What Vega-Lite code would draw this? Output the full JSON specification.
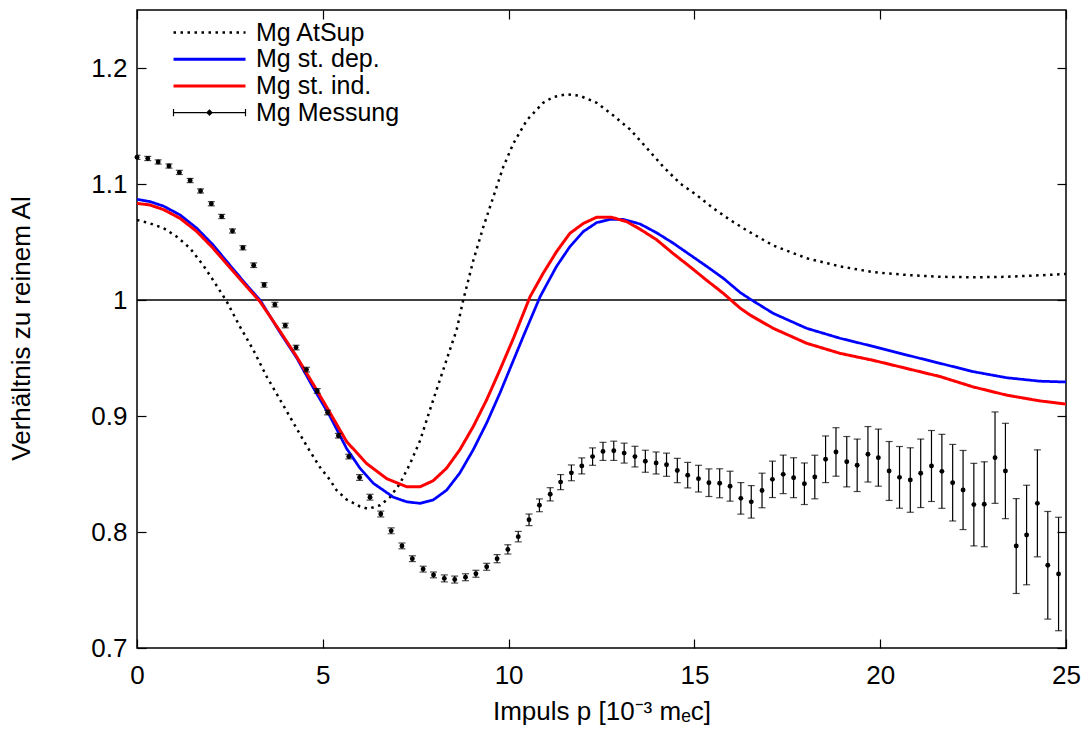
{
  "$schema": "https://vega.github.io/schema/vega-lite/v6.json",
  "width": 929,
  "height": 638,
  "autosize": {"type": "none"},
  "padding": {"left": 137, "top": 10, "right": 25, "bottom": 85},
  "background": "white",
  "config": {
    "font": "Liberation Sans",
    "view": {"stroke": "black", "strokeWidth": 1.5},
    "axis": {
      "labelFont": "Liberation Sans",
      "titleFont": "Liberation Sans",
      "labelFontSize": 26,
      "titleFontSize": 26,
      "titleFontWeight": "normal",
      "labelColor": "black",
      "titleColor": "black",
      "tickColor": "black",
      "tickWidth": 1.2,
      "tickSize": -9,
      "domain": false,
      "grid": false,
      "labelFlush": false,
      "labelOverlap": false
    }
  },
  "datasets": {
    "curves": [
      {"s": "Mg AtSup", "p": 0, "v": 1.069},
      {"s": "Mg AtSup", "p": 0.35, "v": 1.066},
      {"s": "Mg AtSup", "p": 0.71, "v": 1.062},
      {"s": "Mg AtSup", "p": 1.07, "v": 1.0546},
      {"s": "Mg AtSup", "p": 1.43, "v": 1.0446},
      {"s": "Mg AtSup", "p": 1.78, "v": 1.03},
      {"s": "Mg AtSup", "p": 2.05, "v": 1.017},
      {"s": "Mg AtSup", "p": 2.41, "v": 0.999},
      {"s": "Mg AtSup", "p": 2.77, "v": 0.977},
      {"s": "Mg AtSup", "p": 3.13, "v": 0.957},
      {"s": "Mg AtSup", "p": 3.49, "v": 0.934},
      {"s": "Mg AtSup", "p": 3.85, "v": 0.914},
      {"s": "Mg AtSup", "p": 4.21, "v": 0.894},
      {"s": "Mg AtSup", "p": 4.57, "v": 0.874},
      {"s": "Mg AtSup", "p": 4.92, "v": 0.856},
      {"s": "Mg AtSup", "p": 5.19, "v": 0.845},
      {"s": "Mg AtSup", "p": 5.37, "v": 0.836},
      {"s": "Mg AtSup", "p": 5.64, "v": 0.828},
      {"s": "Mg AtSup", "p": 6.0, "v": 0.822},
      {"s": "Mg AtSup", "p": 6.22, "v": 0.82},
      {"s": "Mg AtSup", "p": 6.54, "v": 0.823},
      {"s": "Mg AtSup", "p": 6.81, "v": 0.83},
      {"s": "Mg AtSup", "p": 7.08, "v": 0.842},
      {"s": "Mg AtSup", "p": 7.35, "v": 0.859},
      {"s": "Mg AtSup", "p": 7.62, "v": 0.879},
      {"s": "Mg AtSup", "p": 7.88, "v": 0.905},
      {"s": "Mg AtSup", "p": 8.15, "v": 0.931},
      {"s": "Mg AtSup", "p": 8.42, "v": 0.957},
      {"s": "Mg AtSup", "p": 8.6, "v": 0.974},
      {"s": "Mg AtSup", "p": 8.78, "v": 1.0},
      {"s": "Mg AtSup", "p": 9.05, "v": 1.034},
      {"s": "Mg AtSup", "p": 9.32, "v": 1.063},
      {"s": "Mg AtSup", "p": 9.59, "v": 1.089},
      {"s": "Mg AtSup", "p": 9.86, "v": 1.115},
      {"s": "Mg AtSup", "p": 10.13, "v": 1.135},
      {"s": "Mg AtSup", "p": 10.49, "v": 1.155},
      {"s": "Mg AtSup", "p": 10.93, "v": 1.17},
      {"s": "Mg AtSup", "p": 11.2, "v": 1.175},
      {"s": "Mg AtSup", "p": 11.56, "v": 1.1773},
      {"s": "Mg AtSup", "p": 11.92, "v": 1.176},
      {"s": "Mg AtSup", "p": 12.37, "v": 1.17},
      {"s": "Mg AtSup", "p": 12.82, "v": 1.159},
      {"s": "Mg AtSup", "p": 13.27, "v": 1.147},
      {"s": "Mg AtSup", "p": 13.72, "v": 1.131},
      {"s": "Mg AtSup", "p": 14.16, "v": 1.115},
      {"s": "Mg AtSup", "p": 14.61, "v": 1.1006},
      {"s": "Mg AtSup", "p": 15.06, "v": 1.0905},
      {"s": "Mg AtSup", "p": 15.51, "v": 1.079},
      {"s": "Mg AtSup", "p": 15.96, "v": 1.069},
      {"s": "Mg AtSup", "p": 16.41, "v": 1.06},
      {"s": "Mg AtSup", "p": 17.12, "v": 1.047},
      {"s": "Mg AtSup", "p": 18.02, "v": 1.036},
      {"s": "Mg AtSup", "p": 18.92, "v": 1.029},
      {"s": "Mg AtSup", "p": 19.81, "v": 1.024},
      {"s": "Mg AtSup", "p": 20.71, "v": 1.0216},
      {"s": "Mg AtSup", "p": 21.61, "v": 1.02},
      {"s": "Mg AtSup", "p": 22.51, "v": 1.0196},
      {"s": "Mg AtSup", "p": 23.4, "v": 1.02},
      {"s": "Mg AtSup", "p": 24.3, "v": 1.0213},
      {"s": "Mg AtSup", "p": 25.0, "v": 1.0224},

      {"s": "Mg st. dep.", "p": 0, "v": 1.0868},
      {"s": "Mg st. dep.", "p": 0.35, "v": 1.0848},
      {"s": "Mg st. dep.", "p": 0.71, "v": 1.081},
      {"s": "Mg st. dep.", "p": 1.16, "v": 1.0733},
      {"s": "Mg st. dep.", "p": 1.61, "v": 1.0618},
      {"s": "Mg st. dep.", "p": 2.05, "v": 1.0474},
      {"s": "Mg st. dep.", "p": 2.5, "v": 1.03},
      {"s": "Mg st. dep.", "p": 2.95, "v": 1.0129},
      {"s": "Mg st. dep.", "p": 3.31, "v": 1.0},
      {"s": "Mg st. dep.", "p": 3.85, "v": 0.972},
      {"s": "Mg st. dep.", "p": 4.3, "v": 0.95},
      {"s": "Mg st. dep.", "p": 4.75, "v": 0.924},
      {"s": "Mg st. dep.", "p": 5.19, "v": 0.9},
      {"s": "Mg st. dep.", "p": 5.64, "v": 0.872},
      {"s": "Mg st. dep.", "p": 6.0, "v": 0.855},
      {"s": "Mg st. dep.", "p": 6.36, "v": 0.842},
      {"s": "Mg st. dep.", "p": 6.9, "v": 0.83},
      {"s": "Mg st. dep.", "p": 7.26, "v": 0.826},
      {"s": "Mg st. dep.", "p": 7.62, "v": 0.8247},
      {"s": "Mg st. dep.", "p": 7.97, "v": 0.8276},
      {"s": "Mg st. dep.", "p": 8.33, "v": 0.836},
      {"s": "Mg st. dep.", "p": 8.69, "v": 0.851},
      {"s": "Mg st. dep.", "p": 9.05, "v": 0.871},
      {"s": "Mg st. dep.", "p": 9.41, "v": 0.894},
      {"s": "Mg st. dep.", "p": 9.77, "v": 0.92},
      {"s": "Mg st. dep.", "p": 10.13, "v": 0.948},
      {"s": "Mg st. dep.", "p": 10.4, "v": 0.969},
      {"s": "Mg st. dep.", "p": 10.85, "v": 1.003},
      {"s": "Mg st. dep.", "p": 11.29, "v": 1.029},
      {"s": "Mg st. dep.", "p": 11.65, "v": 1.046},
      {"s": "Mg st. dep.", "p": 12.01, "v": 1.059},
      {"s": "Mg st. dep.", "p": 12.37, "v": 1.0667},
      {"s": "Mg st. dep.", "p": 12.73, "v": 1.0695},
      {"s": "Mg st. dep.", "p": 13.09, "v": 1.0695},
      {"s": "Mg st. dep.", "p": 13.54, "v": 1.0655},
      {"s": "Mg st. dep.", "p": 13.98, "v": 1.058},
      {"s": "Mg st. dep.", "p": 14.43, "v": 1.049},
      {"s": "Mg st. dep.", "p": 14.88, "v": 1.039},
      {"s": "Mg st. dep.", "p": 15.33, "v": 1.029},
      {"s": "Mg st. dep.", "p": 15.78, "v": 1.0187},
      {"s": "Mg st. dep.", "p": 16.23, "v": 1.0065},
      {"s": "Mg st. dep.", "p": 16.5, "v": 1.0008},
      {"s": "Mg st. dep.", "p": 17.12, "v": 0.9885},
      {"s": "Mg st. dep.", "p": 18.02, "v": 0.9756},
      {"s": "Mg st. dep.", "p": 18.92, "v": 0.967},
      {"s": "Mg st. dep.", "p": 19.81, "v": 0.96},
      {"s": "Mg st. dep.", "p": 20.71, "v": 0.9526},
      {"s": "Mg st. dep.", "p": 21.61, "v": 0.9454},
      {"s": "Mg st. dep.", "p": 22.51, "v": 0.9382},
      {"s": "Mg st. dep.", "p": 23.4, "v": 0.933},
      {"s": "Mg st. dep.", "p": 24.3, "v": 0.93},
      {"s": "Mg st. dep.", "p": 25.0, "v": 0.9293},

      {"s": "Mg st. ind.", "p": 0, "v": 1.0833},
      {"s": "Mg st. ind.", "p": 0.35, "v": 1.0819},
      {"s": "Mg st. ind.", "p": 0.71, "v": 1.078},
      {"s": "Mg st. ind.", "p": 1.16, "v": 1.0704},
      {"s": "Mg st. ind.", "p": 1.61, "v": 1.059},
      {"s": "Mg st. ind.", "p": 2.05, "v": 1.0446},
      {"s": "Mg st. ind.", "p": 2.5, "v": 1.028},
      {"s": "Mg st. ind.", "p": 2.95, "v": 1.0115},
      {"s": "Mg st. ind.", "p": 3.31, "v": 0.9986},
      {"s": "Mg st. ind.", "p": 3.85, "v": 0.973},
      {"s": "Mg st. ind.", "p": 4.3, "v": 0.951},
      {"s": "Mg st. ind.", "p": 4.75, "v": 0.927},
      {"s": "Mg st. ind.", "p": 5.19, "v": 0.903},
      {"s": "Mg st. ind.", "p": 5.64, "v": 0.878},
      {"s": "Mg st. ind.", "p": 6.18, "v": 0.859},
      {"s": "Mg st. ind.", "p": 6.72, "v": 0.846},
      {"s": "Mg st. ind.", "p": 7.26, "v": 0.839},
      {"s": "Mg st. ind.", "p": 7.62, "v": 0.839},
      {"s": "Mg st. ind.", "p": 7.97, "v": 0.8442},
      {"s": "Mg st. ind.", "p": 8.33, "v": 0.855},
      {"s": "Mg st. ind.", "p": 8.69, "v": 0.871},
      {"s": "Mg st. ind.", "p": 9.05, "v": 0.891},
      {"s": "Mg st. ind.", "p": 9.41, "v": 0.914},
      {"s": "Mg st. ind.", "p": 9.77, "v": 0.94},
      {"s": "Mg st. ind.", "p": 10.13, "v": 0.967},
      {"s": "Mg st. ind.", "p": 10.58, "v": 1.003},
      {"s": "Mg st. ind.", "p": 10.93, "v": 1.023},
      {"s": "Mg st. ind.", "p": 11.29, "v": 1.0417},
      {"s": "Mg st. ind.", "p": 11.65, "v": 1.0575},
      {"s": "Mg st. ind.", "p": 12.01, "v": 1.066},
      {"s": "Mg st. ind.", "p": 12.37, "v": 1.0713},
      {"s": "Mg st. ind.", "p": 12.77, "v": 1.0713},
      {"s": "Mg st. ind.", "p": 13.18, "v": 1.0675},
      {"s": "Mg st. ind.", "p": 13.54, "v": 1.061},
      {"s": "Mg st. ind.", "p": 13.98, "v": 1.052},
      {"s": "Mg st. ind.", "p": 14.43, "v": 1.04},
      {"s": "Mg st. ind.", "p": 14.88, "v": 1.0287},
      {"s": "Mg st. ind.", "p": 15.33, "v": 1.017},
      {"s": "Mg st. ind.", "p": 15.78, "v": 1.0057},
      {"s": "Mg st. ind.", "p": 16.23, "v": 0.993},
      {"s": "Mg st. ind.", "p": 16.5, "v": 0.987},
      {"s": "Mg st. ind.", "p": 17.12, "v": 0.9756},
      {"s": "Mg st. ind.", "p": 18.02, "v": 0.9627},
      {"s": "Mg st. ind.", "p": 18.92, "v": 0.954},
      {"s": "Mg st. ind.", "p": 19.81, "v": 0.948},
      {"s": "Mg st. ind.", "p": 20.71, "v": 0.941},
      {"s": "Mg st. ind.", "p": 21.61, "v": 0.934},
      {"s": "Mg st. ind.", "p": 22.51, "v": 0.925},
      {"s": "Mg st. ind.", "p": 23.4, "v": 0.918},
      {"s": "Mg st. ind.", "p": 24.3, "v": 0.913},
      {"s": "Mg st. ind.", "p": 25.0, "v": 0.9103}
    ],
    "meas": [
      {"p": 0, "v": 1.123, "e": 0.0018},
      {"p": 0.29, "v": 1.122, "e": 0.0018},
      {"p": 0.57, "v": 1.119, "e": 0.0018},
      {"p": 0.86, "v": 1.1155, "e": 0.0018},
      {"p": 1.14, "v": 1.11, "e": 0.0018},
      {"p": 1.43, "v": 1.103, "e": 0.0018},
      {"p": 1.71, "v": 1.094, "e": 0.0018},
      {"p": 2.0, "v": 1.083, "e": 0.0018},
      {"p": 2.28, "v": 1.072, "e": 0.0018},
      {"p": 2.57, "v": 1.0595, "e": 0.0018},
      {"p": 2.85, "v": 1.045, "e": 0.0018},
      {"p": 3.14, "v": 1.03, "e": 0.002},
      {"p": 3.42, "v": 1.013, "e": 0.002},
      {"p": 3.71, "v": 0.996, "e": 0.002},
      {"p": 3.99, "v": 0.978, "e": 0.002},
      {"p": 4.28, "v": 0.959, "e": 0.002},
      {"p": 4.56, "v": 0.94, "e": 0.002},
      {"p": 4.85, "v": 0.9216, "e": 0.002},
      {"p": 5.13, "v": 0.903, "e": 0.002},
      {"p": 5.42, "v": 0.883, "e": 0.002},
      {"p": 5.7, "v": 0.865, "e": 0.002},
      {"p": 5.99, "v": 0.847, "e": 0.0025},
      {"p": 6.27, "v": 0.83, "e": 0.0025},
      {"p": 6.56, "v": 0.8155, "e": 0.0025},
      {"p": 6.84, "v": 0.801, "e": 0.0025},
      {"p": 7.13, "v": 0.788, "e": 0.0025},
      {"p": 7.41, "v": 0.777, "e": 0.0025},
      {"p": 7.7, "v": 0.768, "e": 0.0025},
      {"p": 7.98, "v": 0.763, "e": 0.0025},
      {"p": 8.27, "v": 0.76, "e": 0.003},
      {"p": 8.55, "v": 0.759, "e": 0.003},
      {"p": 8.84, "v": 0.761, "e": 0.003},
      {"p": 9.12, "v": 0.764, "e": 0.003},
      {"p": 9.41, "v": 0.77, "e": 0.003},
      {"p": 9.69, "v": 0.777, "e": 0.0035},
      {"p": 9.98, "v": 0.785, "e": 0.004},
      {"p": 10.26, "v": 0.796, "e": 0.0045},
      {"p": 10.55, "v": 0.8105, "e": 0.005},
      {"p": 10.83, "v": 0.823, "e": 0.0055},
      {"p": 11.12, "v": 0.8325, "e": 0.0057},
      {"p": 11.4, "v": 0.843, "e": 0.0065},
      {"p": 11.69, "v": 0.851, "e": 0.0068},
      {"p": 11.97, "v": 0.857, "e": 0.0069},
      {"p": 12.26, "v": 0.865, "e": 0.0075},
      {"p": 12.54, "v": 0.8695, "e": 0.0078},
      {"p": 12.83, "v": 0.87, "e": 0.0083},
      {"p": 13.11, "v": 0.868, "e": 0.0086},
      {"p": 13.4, "v": 0.865, "e": 0.0089},
      {"p": 13.68, "v": 0.861, "e": 0.0095},
      {"p": 13.97, "v": 0.8595, "e": 0.0095},
      {"p": 14.25, "v": 0.858, "e": 0.01},
      {"p": 14.54, "v": 0.853, "e": 0.0105},
      {"p": 14.82, "v": 0.849, "e": 0.011},
      {"p": 15.11, "v": 0.846, "e": 0.0115},
      {"p": 15.39, "v": 0.8425, "e": 0.0119},
      {"p": 15.68, "v": 0.842, "e": 0.0125},
      {"p": 15.96, "v": 0.8395, "e": 0.0129},
      {"p": 16.25, "v": 0.829, "e": 0.0136},
      {"p": 16.53, "v": 0.826, "e": 0.014},
      {"p": 16.82, "v": 0.8358, "e": 0.0149},
      {"p": 17.1, "v": 0.8454, "e": 0.0157},
      {"p": 17.39, "v": 0.8497, "e": 0.0166},
      {"p": 17.67, "v": 0.8468, "e": 0.0172},
      {"p": 17.96, "v": 0.8416, "e": 0.0179},
      {"p": 18.24, "v": 0.8474, "e": 0.0188},
      {"p": 18.53, "v": 0.8627, "e": 0.0201},
      {"p": 18.81, "v": 0.869, "e": 0.0209},
      {"p": 19.1, "v": 0.8606, "e": 0.0217},
      {"p": 19.38, "v": 0.8575, "e": 0.0226},
      {"p": 19.67, "v": 0.867, "e": 0.0239},
      {"p": 19.95, "v": 0.8641, "e": 0.0246},
      {"p": 20.24, "v": 0.8526, "e": 0.0254},
      {"p": 20.52, "v": 0.8471, "e": 0.0266},
      {"p": 20.81, "v": 0.8448, "e": 0.0278},
      {"p": 21.09, "v": 0.8506, "e": 0.0295},
      {"p": 21.38, "v": 0.8569, "e": 0.0306},
      {"p": 21.66, "v": 0.8523, "e": 0.0319},
      {"p": 21.95, "v": 0.8425, "e": 0.033},
      {"p": 22.23, "v": 0.8362, "e": 0.0341},
      {"p": 22.52, "v": 0.8236, "e": 0.0356},
      {"p": 22.8, "v": 0.8239, "e": 0.0366},
      {"p": 23.09, "v": 0.8641, "e": 0.0394},
      {"p": 23.37, "v": 0.8526, "e": 0.0411},
      {"p": 23.66, "v": 0.7879, "e": 0.0409},
      {"p": 23.94, "v": 0.7974, "e": 0.0429},
      {"p": 24.23, "v": 0.8247, "e": 0.0461},
      {"p": 24.51, "v": 0.7713, "e": 0.0464},
      {"p": 24.8, "v": 0.7638, "e": 0.0489}
    ],
    "ref": [{"v": 1}]
  },
  "layer": [
    {
      "data": {"name": "ref"},
      "mark": {"type": "rule", "color": "black", "strokeWidth": 1.5},
      "encoding": {
        "y": {"field": "v", "type": "quantitative", "axis": null}
      }
    },
    {
      "data": {"name": "curves"},
      "mark": {"type": "line", "clip": true},
      "encoding": {
        "x": {
          "field": "p", "type": "quantitative",
          "scale": {"domain": [0, 25], "nice": false, "zero": false},
          "axis": {"orient": "bottom", "values": [0, 5, 10, 15, 20, 25], "title": "Impuls p [10⁻³ mₑc]", "labelPadding": 23, "titlePadding": 10}
        },
        "y": {
          "field": "v", "type": "quantitative",
          "scale": {"domain": [0.7, 1.25], "nice": false, "zero": false},
          "axis": {"orient": "left", "values": [0.7, 0.8, 0.9, 1.0, 1.1, 1.2], "format": ".1~f", "title": "Verhältnis zu reinem Al", "labelPadding": 19, "titleX": -108, "titleY": 318, "titleBaseline": "alphabetic", "titleAngle": 270}
        },
        "color": {
          "field": "s", "type": "nominal",
          "scale": {"domain": ["Mg AtSup", "Mg st. dep.", "Mg st. ind.", "Mg Messung"], "range": ["black", "blue", "red", "black"]},
          "legend": {
            "orient": "none", "legendX": 60, "legendY": 10, "title": null,
            "symbolType": "stroke", "symbolSize": 5184, "symbolStrokeWidth": 3,
            "labelFont": "Liberation Sans", "labelFontSize": 25, "labelColor": "black",
            "labelOffset": 34, "rowPadding": 0.7, "labelLimit": 400, "padding": 0,
            "encode": {
              "symbols": {
                "update": {
                  "strokeDash": {"signal": "datum.value === 'Mg AtSup' ? [2.5, 4.5] : [1, 0]"},
                  "shape": {"signal": "datum.value === 'Mg Messung' ? 'M-1,0H1M-1,-0.1V0.1M1,-0.1V0.1M-0.07,0L0,-0.07L0.07,0L0,0.07Z' : 'stroke'"},
                  "strokeWidth": {"signal": "datum.value === 'Mg AtSup' ? 2.5 : (datum.value === 'Mg Messung' ? 1.2 : 3)"},
                  "fill": {"signal": "datum.value === 'Mg Messung' ? 'black' : 'transparent'"}
                }
              }
            }
          }
        },
        "strokeDash": {
          "field": "s", "type": "nominal",
          "scale": {"domain": ["Mg AtSup", "Mg st. dep.", "Mg st. ind."], "range": [[2.5, 4.5], [1, 0], [1, 0]]},
          "legend": null
        },
        "strokeWidth": {
          "field": "s", "type": "nominal",
          "scale": {"domain": ["Mg AtSup", "Mg st. dep.", "Mg st. ind."], "range": [2.5, 3, 3]},
          "legend": null
        }
      }
    },
    {
      "data": {"name": "meas"},
      "mark": {"type": "errorbar", "color": "black", "size": 7, "thickness": 1.2, "ticks": true, "clip": true},
      "encoding": {
        "x": {"field": "p", "type": "quantitative", "axis": null},
        "y": {"field": "v", "type": "quantitative", "axis": null},
        "yError": {"field": "e"}
      }
    },
    {
      "data": {"name": "meas"},
      "mark": {"type": "point", "filled": true, "shape": "circle", "size": 24, "color": "black", "opacity": 1},
      "encoding": {
        "x": {"field": "p", "type": "quantitative", "axis": {"orient": "top", "labels": false, "title": null, "values": [0, 5, 10, 15, 20, 25]}},
        "y": {"field": "v", "type": "quantitative", "axis": {"orient": "right", "labels": false, "title": null, "values": [0.7, 0.8, 0.9, 1.0, 1.1, 1.2]}}
      }
    }
  ],
  "resolve": {"axis": {"x": "independent", "y": "independent"}}
}
